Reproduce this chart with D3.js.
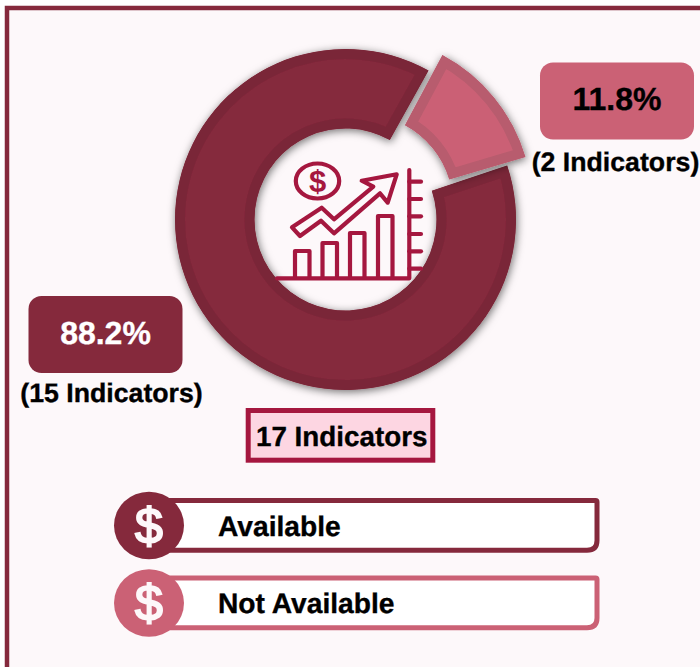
<!DOCTYPE html>
<html>
<head>
<meta charset="utf-8">
<script src="https://cdnjs.cloudflare.com/ajax/libs/d3/7.8.5/d3.min.js"></script>
<style>
  html, body { margin: 0; padding: 0; background: #fff; }
  svg { display: block; }
  text { font-family: "Liberation Sans", Arial, sans-serif; font-weight: bold; text-rendering: geometricPrecision; stroke-width: 0.35; }
</style>
</head>
<body>
<div id="chart"></div>
<script>
// values
const categories = ["Available", "Not Available"];
const indicatorCounts = [15, 2];
const percentLabels = ["88.2%", "11.8%"];
const countLabels = ["(15 Indicators)", "(2 Indicators)"];
const totalLabel = "17 Indicators";

const width = 700, height = 667;
const maroon = "#85293c", rose = "#cb6175", crimson = "#a5173f";
const deg = Math.PI / 180;

const svg = d3.select("#chart").append("svg")
    .attr("width", width)
    .attr("height", height);

const defs = svg.append("defs");
const shadow = defs.append("filter").attr("id", "shadow")
    .attr("x", "-20%").attr("y", "-20%").attr("width", "140%").attr("height", "140%");
shadow.append("feDropShadow")
    .attr("dx", 1).attr("dy", 2)
    .attr("stdDeviation", 4)
    .attr("flood-color", "#000")
    .attr("flood-opacity", 0.55);

// frame
svg.append("rect").attr("x", 7).attr("y", 8).attr("width", 720).attr("height", 700)
    .attr("fill", "#fdf8fa")
    .attr("stroke", maroon)
    .attr("stroke-width", 4.5);

// donut
const pie = d3.pie().sort(null)
    .startAngle(71.5 * deg)
    .endAngle((71.5 + 360) * deg);
const arc = d3.arc().innerRadius(91).outerRadius(170.5);
const slices = pie(indicatorCounts);

const sliceStyle = [
    { fill: maroon, edge: "#7a2738", cx: 345.5, cy: 219.5, before: 0, after: 0 },
    // pulled out piece sits off centre and is drawn a little wider
    { fill: rose, edge: "#b85c6e", cx: 362, cy: 205.4, before: 1 * deg, after: 2 * deg }
];

const sliceG = svg.selectAll("g.slice")
    .data(slices)
    .join("g")
    .attr("class", "slice")
    .attr("filter", "url(#shadow)")
    .attr("transform", (d, i) => "translate(" + sliceStyle[i].cx + "," + sliceStyle[i].cy + ")");

function slicePath(d, i) {
    return arc({
        startAngle: d.startAngle - sliceStyle[i].before,
        endAngle: d.endAngle + sliceStyle[i].after
    });
}

defs.selectAll("clipPath")
    .data(slices)
    .join("clipPath")
    .attr("id", (d, i) => "slice-clip-" + i)
    .append("path")
    .attr("d", slicePath);

sliceG.append("g")
    .attr("clip-path", (d, i) => "url(#slice-clip-" + i + ")")
    .append("path")
    .attr("d", slicePath)
    .attr("fill", (d, i) => sliceStyle[i].fill)
    .attr("stroke", (d, i) => sliceStyle[i].edge)
    .attr("stroke-width", 20)
    .attr("stroke-linejoin", "miter");

// icon in the hole
const icon = svg.append("g")
    .attr("fill", "none")
    .attr("stroke", crimson)
    .attr("stroke-width", 4.2)
    .attr("stroke-linejoin", "round")
    .attr("stroke-linecap", "round");

icon.append("ellipse")
    .attr("cx", 317.5).attr("cy", 181).attr("rx", 21.7).attr("ry", 17.5);
svg.append("text")
    .attr("x", 317.5).attr("y", 192)
    .attr("text-anchor", "middle")
    .attr("font-size", 31)
    .attr("fill", crimson)
    .text("$");

icon.append("path")
    .attr("d", d3.line()([[292, 227.3], [321.7, 207.7], [334, 219.3], [373.3, 186.7], [361.7, 180.7],
        [396.7, 174.3], [387.7, 202.7], [380, 193.3], [334, 233.3], [321, 220.7], [300, 236]]) + "Z");

[[295, 309.5, 251], [322.5, 337, 243], [350, 364.5, 233], [378, 392.5, 216]].forEach(function (b) {
    icon.append("path").attr("d", d3.line()([[b[0], 278], [b[0], b[2]], [b[1], b[2]], [b[1], 278]]));
});
icon.append("path").attr("d", "M277,278.3H409.3V170");
[181.7, 199, 216.3, 234, 251.3, 268.7].forEach(function (y) {
    icon.append("path").attr("d", "M409.3," + y + "H421");
});

// percent badges
const badges = [
    { x: 28.5, y: 296, w: 154, h: 77, text: "#fff", tx: 105.5, ty: 344, lx: 111.5, ly: 401.5 },
    { x: 540, y: 62.5, w: 154, h: 77, text: "#000", tx: 617, ty: 110, lx: 615.5, ly: 170.5 }
];
const badge = svg.selectAll("g.badge")
    .data(percentLabels)
    .join("g")
    .attr("class", "badge");
badge.append("rect")
    .attr("x", (d, i) => badges[i].x).attr("y", (d, i) => badges[i].y)
    .attr("width", (d, i) => badges[i].w).attr("height", (d, i) => badges[i].h)
    .attr("rx", 13)
    .attr("fill", (d, i) => i == 0 ? maroon : rose);
badge.append("text")
    .attr("x", (d, i) => badges[i].tx).attr("y", (d, i) => badges[i].ty)
    .attr("text-anchor", "middle")
    .attr("font-size", 32)
    .attr("fill", (d, i) => badges[i].text)
    .attr("stroke", (d, i) => badges[i].text)
    .text(d => d);
badge.append("text")
    .data(countLabels)
    .attr("x", (d, i) => badges[i].lx).attr("y", (d, i) => badges[i].ly)
    .attr("text-anchor", "middle")
    .attr("font-size", 26.7)
    .attr("fill", "#000")
    .attr("stroke", "#000")
    .text(d => d);

// total box
svg.append("rect")
    .attr("x", 248.2).attr("y", 410.5).attr("width", 184.6).attr("height", 49.7)
    .attr("fill", "#fdd6e2")
    .attr("stroke", crimson)
    .attr("stroke-width", 5);
svg.append("text")
    .attr("x", 341.7).attr("y", 445.7)
    .attr("text-anchor", "middle")
    .attr("font-size", 27.8)
    .attr("fill", "#000")
    .attr("stroke", "#000")
    .text(totalLabel);

// legend
const legendY = d3.scaleOrdinal().domain(categories).range([525.5, 603]);
const legendColor = d3.scaleOrdinal().domain(categories).range([maroon, rose]);

const row = svg.selectAll("g.legend")
    .data(categories)
    .join("g")
    .attr("class", "legend")
    .attr("transform", d => "translate(0," + legendY(d) + ")");

row.append("path")
    .attr("d", "M160,-25H595.5Q597,-25 597,-23.5V15Q597,24.8 587,24.8H160Z")
    .attr("fill", "#fff")
    .attr("stroke", d => legendColor(d))
    .attr("stroke-width", 5);
row.append("ellipse")
    .attr("cx", 149)
    .attr("rx", 35).attr("ry", 33.8)
    .attr("fill", d => legendColor(d));
row.append("text")
    .attr("x", 149).attr("y", 17)
    .attr("text-anchor", "middle")
    .attr("font-size", 50)
    .style("font-weight", "normal")
    .style("stroke-width", 2)
    .attr("fill", "#fdf8fa")
    .attr("stroke", "#fdf8fa")
    .text("$");
row.append("text")
    .attr("x", 218)
    .attr("y", 10)
    .attr("font-size", 28.2)
    .attr("fill", "#000")
    .attr("stroke", "#000")
    .text(d => d);
</script>
</body>
</html>
